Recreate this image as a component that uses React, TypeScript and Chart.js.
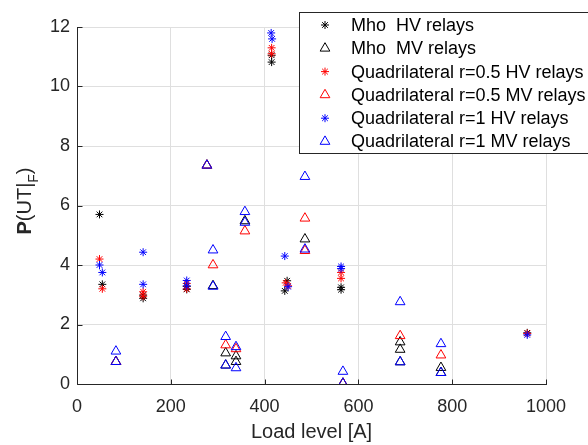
import React, { useEffect, useRef } from "react";
import { Chart, registerables } from "chart.js";
import { drawPoint } from "chart.js/helpers";

Chart.register(...registerables);

const FONT = '"Liberation Sans", Arial, Helvetica, sans-serif';

const X_TICKS = [0, 200, 400, 600, 800, 1000];
const Y_TICKS = [0, 2, 4, 6, 8, 10, 12];

const LEGEND_LABELS = [
  "Mho  HV relays",
  "Mho  MV relays",
  "Quadrilateral r=0.5 HV relays",
  "Quadrilateral r=0.5 MV relays",
  "Quadrilateral r=1 HV relays",
  "Quadrilateral r=1 MV relays",
];
const X_TITLE = "Load level [A]";

// Mho HV relays (black *)
const mhoHV_x = [48, 54, 141, 141, 234, 234, 415, 415, 448, 443, 563, 563, 960];
const mhoHV_y = [5.7, 3.35, 2.99, 2.88, 3.28, 3.18, 11.05, 10.82, 3.47, 3.13, 3.25, 3.17, 1.72];

// Mho MV relays (black triangle)
const mhoMV_x = [83, 277, 290, 317, 317, 339, 339, 358, 486, 567, 689, 689, 689, 776, 776];
const mhoMV_y = [0.75, 7.35, 3.3, 1.04, 0.63, 0.94, 0.75, 5.48, 4.87, 0.02, 1.41, 1.16, 0.74, 0.55, 0.38];

// Quadrilateral r=0.5 HV relays (red *)
const q05HV_x = [48, 54, 141, 141, 234, 234, 415, 415, 445, 450, 563, 563, 960];
const q05HV_y = [4.2, 3.2, 3.1, 2.95, 3.38, 3.2, 11.3, 11.1, 3.4, 3.3, 3.75, 3.55, 1.7];

// Quadrilateral r=0.5 MV relays (red triangle)
const q05MV_x = [83, 277, 290, 317, 339, 358, 486, 486, 567, 689, 776];
const q05MV_y = [0.75, 7.35, 4.0, 1.31, 1.18, 5.14, 5.57, 4.48, 0.02, 1.62, 0.97];

// Quadrilateral r=1 HV relays (blue *)
const q1HV_x = [48, 54, 141, 141, 234, 234, 414, 416, 443, 450, 563, 563, 960];
const q1HV_y = [4.0, 3.75, 4.43, 3.35, 3.48, 3.3, 11.8, 11.6, 4.3, 3.27, 3.95, 3.88, 1.65];

// Quadrilateral r=1 MV relays (blue triangle)
const q1MV_x = [83, 83, 277, 290, 290, 317, 317, 339, 339, 358, 358, 486, 486, 567, 567, 689, 689, 776, 776];
const q1MV_y = [1.1, 0.75, 7.35, 4.5, 3.28, 1.59, 0.63, 1.25, 0.54, 5.79, 5.43, 6.97, 4.53, 0.42, 0.02, 2.76, 0.74, 1.35, 0.38];

const STAR_R = 4;
const TRI_R = 5.6;

const toPts = (xs: number[], ys: number[]) => xs.map((x, i) => ({ x, y: ys[i] }));

const SERIES = [
  { xs: mhoHV_x, ys: mhoHV_y, color: "#000000", style: "star", r: STAR_R, order: 5 },
  { xs: mhoMV_x, ys: mhoMV_y, color: "#000000", style: "triangle", r: TRI_R, order: 4 },
  { xs: q05HV_x, ys: q05HV_y, color: "#ff0000", style: "star", r: STAR_R, order: 3 },
  { xs: q05MV_x, ys: q05MV_y, color: "#ff0000", style: "triangle", r: TRI_R, order: 2 },
  { xs: q1HV_x, ys: q1HV_y, color: "#0000ff", style: "star", r: STAR_R, order: 1 },
  { xs: q1MV_x, ys: q1MV_y, color: "#0000ff", style: "triangle", r: TRI_R, order: 0 },
];

const overlay = {
  id: "overlay",
  beforeDatasetsDraw(chart: any) {
    const { ctx, chartArea: a } = chart;
    const xs = chart.scales.x;
    const ys = chart.scales.y;
    ctx.save();
    ctx.strokeStyle = "#262626";
    ctx.lineWidth = 1;
    ctx.beginPath();
    const L = Math.round(a.left) + 0.5;
    const B = Math.round(a.bottom) + 0.5;
    ctx.moveTo(L, Math.round(a.top));
    ctx.lineTo(L, B);
    ctx.lineTo(Math.round(a.right) + 1, B);
    X_TICKS.forEach((v) => {
      const p = Math.round(xs.getPixelForValue(v)) + 0.5;
      ctx.moveTo(p, B);
      ctx.lineTo(p, B - 5);
    });
    Y_TICKS.forEach((v) => {
      const p = Math.round(ys.getPixelForValue(v)) + 0.5;
      ctx.moveTo(L, p);
      ctx.lineTo(L + 5, p);
    });
    ctx.stroke();
    ctx.restore();
  },
  afterDraw(chart: any) {
    const { ctx, chartArea: a } = chart;
    ctx.save();
    // x title
    ctx.fillStyle = "#262626";
    ctx.font = `20px ${FONT}`;
    ctx.textAlign = "center";
    ctx.textBaseline = "middle";
    ctx.fillText(X_TITLE, (a.left + a.right) / 2, 432);

    // y title P(UT|F) with subscript F
    ctx.save();
    ctx.translate(31, 201);
    ctx.rotate(-Math.PI / 2);
    ctx.textAlign = "left";
    ctx.textBaseline = "alphabetic";
    const parts = [
      { t: "P", f: `bold 20px ${FONT}`, dy: 0 },
      { t: "(UT|", f: `20px ${FONT}`, dy: 0 },
      { t: "F", f: `14px ${FONT}`, dy: 7 },
      { t: ")", f: `20px ${FONT}`, dy: 0 },
    ];
    let total = 0;
    parts.forEach((p) => {
      ctx.font = p.f;
      total += ctx.measureText(p.t).width;
    });
    let cx = -total / 2;
    parts.forEach((p) => {
      ctx.font = p.f;
      ctx.fillText(p.t, cx, p.dy);
      cx += ctx.measureText(p.t).width;
    });
    ctx.restore();

    // legend
    const bx = 299;
    const by = 12;
    ctx.fillStyle = "#ffffff";
    ctx.fillRect(bx, by, 300, 141);
    ctx.strokeStyle = "#262626";
    ctx.lineWidth = 1;
    ctx.strokeRect(bx + 0.5, by + 0.5, 300, 141);
    ctx.font = `18px ${FONT}`;
    ctx.textAlign = "left";
    ctx.textBaseline = "middle";
    LEGEND_LABELS.forEach((label, i) => {
      const s = SERIES[i];
      const y = 25 + i * 23.3;
      ctx.save();
      ctx.strokeStyle = s.color;
      ctx.fillStyle = "rgba(0,0,0,0)";
      ctx.lineWidth = 1;
      drawPoint(ctx, { pointStyle: s.style, radius: s.r, rotation: 0, borderWidth: 1 } as any, 325, y);
      ctx.restore();
      ctx.fillStyle = "#000000";
      ctx.fillText(label, 351, y + 1);
    });
    ctx.restore();
  },
};

export default function App() {
  const ref = useRef<HTMLCanvasElement | null>(null);
  useEffect(() => {
    if (!ref.current) return;
    const chart = new Chart(ref.current, {
      type: "scatter",
      data: {
        datasets: SERIES.map((s, i) => ({
          label: LEGEND_LABELS[i],
          data: toPts(s.xs, s.ys),
          pointStyle: s.style as any,
          pointRadius: s.r,
          pointBorderWidth: 1,
          borderColor: s.color,
          backgroundColor: "rgba(0,0,0,0)",
          showLine: false,
          order: s.order,
        })),
      },
      options: {
        responsive: false,
        animation: false,
        events: [],
        layout: { padding: { top: 27, right: 42, left: 0, bottom: 0 } },
        plugins: { legend: { display: false }, tooltip: { enabled: false }, title: { display: false } },
        scales: {
          x: {
            type: "linear",
            min: 0,
            max: 1000,
            afterBuildTicks: (s: any) => {
              s.ticks = X_TICKS.map((v) => ({ value: v }));
            },
            afterFit: (s: any) => {
              s.height = 61;
            },
            grid: { color: "#dfdfdf", drawTicks: false, lineWidth: 1 },
            border: { display: false },
            ticks: {
              font: { size: 18, family: FONT },
              color: "#262626",
              padding: 12,
              maxRotation: 0,
              autoSkip: false,
              callback: (v: any) => String(v),
            },
          },
          y: {
            type: "linear",
            min: 0,
            max: 12,
            afterBuildTicks: (s: any) => {
              s.ticks = Y_TICKS.map((v) => ({ value: v }));
            },
            afterFit: (s: any) => {
              s.width = 77;
            },
            grid: { color: "#dfdfdf", drawTicks: false, lineWidth: 1 },
            border: { display: false },
            ticks: {
              font: { size: 18, family: FONT },
              color: "#262626",
              padding: 7,
              autoSkip: false,
              callback: (v: any) => String(v),
            },
          },
        },
      },
      plugins: [overlay],
    });
    return () => chart.destroy();
  }, []);
  return (
    <div style={{ position: "absolute", left: 0, top: 0, width: 588, height: 445, background: "#fff" }}>
      <canvas ref={ref} width={588} height={445} style={{ display: "block" }} />
    </div>
  );
}
